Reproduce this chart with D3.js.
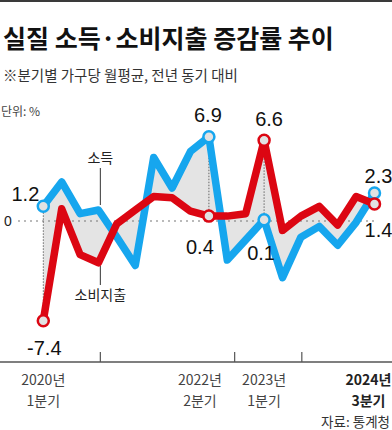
<!DOCTYPE html>
<html>
<head>
<meta charset="utf-8">
<script src="https://cdn.jsdelivr.net/npm/d3@7"></script>
<style>
  body { margin: 0; background: #fff; }
  svg { display: block; }
</style>
</head>
<body>
<svg id="chart" width="392" height="430"></svg>
<script>
// 분기 (2020년 1분기 ~ 2024년 3분기)
const quarters = ["2020Q1","2020Q2","2020Q3","2020Q4","2021Q1","2021Q2","2021Q3","2021Q4",
                  "2022Q1","2022Q2","2022Q3","2022Q4","2023Q1","2023Q2","2023Q3","2023Q4",
                  "2024Q1","2024Q2","2024Q3"];
// 실질 소득 증감률 (%)
const income   = [1.2, 3.2, 0.6, 0.9, -1.2, -3.3, 5.2, 2.7, 5.7, 6.9, -2.9, -1.4, 0.1, -4.2, -1.2, -0.4, -1.8, -0.1, 2.3];
// 실질 소비지출 증감률 (%)
const spending = [-7.4, 1.0, -2.5, -3.1, -0.2, 0.9, 2.0, 1.9, 0.8, 0.4, 0.4, 0.6, 6.6, -0.7, 0.4, 1.2, -0.3, 2.0, 1.4];
// 값 표시하는 분기
const markedIdx = [0, 9, 12, 18];
// x축 라벨
const tickIdx = [0, 9, 12, 18];
const tickYears = ["2020년", "2022년", "2023년", "2024년"];
const tickQuarters = ["1분기", "2분기", "1분기", "3분기"];
// x축 구분 눈금 (분기 위치)
const tickMarks = [3.1, 10.4, 14.05];

const blue = "#16a6ee", red = "#dc0612";
const kr = "'Noto Sans CJK KR', 'Noto Sans', sans-serif";
const num = "'Liberation Sans', Arial, sans-serif";

const svg = d3.select("#chart");

const x = d3.scaleLinear().domain([0, quarters.length - 1]).range([43.3, 374.5]);
const y = d3.scaleLinear()
  .domain([d3.min(spending), 0, d3.max(income)])
  .range([320.7, 221, 136.7]);

// 상단 선
svg.append("rect").attr("x", 0).attr("y", 0).attr("width", 392).attr("height", 2).attr("fill", "#3a3a3a");

// 제목
svg.append("text").attr("x", 3).attr("y", 48)
  .style("font-family", kr).style("font-size", "25px").style("font-weight", "700")
  .attr("fill", "#111").text("실질 소득·소비지출 증감률 추이");
svg.append("text").attr("x", 3).attr("y", 81)
  .style("font-family", kr).style("font-size", "14.5px")
  .attr("fill", "#333").text("※분기별 가구당 월평균, 전년 동기 대비");
svg.append("text").attr("x", 1).attr("y", 116)
  .style("font-family", kr).style("font-size", "12px")
  .attr("fill", "#444").text("단위: %");

// 두 선 사이 면적
const area = d3.area()
  .x((d, i) => x(i))
  .y0((d, i) => y(income[i]))
  .y1((d, i) => y(spending[i]));
svg.append("path").datum(quarters).attr("d", area).attr("fill", "#e4e4e4");

// 0 기준선
svg.append("line")
  .attr("x1", 18).attr("x2", 378).attr("y1", y(0)).attr("y2", y(0))
  .attr("stroke", "#777").attr("stroke-width", 1.2).attr("stroke-dasharray", "2,4");
svg.append("text").attr("x", 8).attr("y", y(0)).attr("dy", "0.35em")
  .attr("text-anchor", "middle")
  .style("font-family", num).style("font-size", "14px").attr("fill", "#222").text("0");

// 수직 점선
svg.selectAll(".drop").data(markedIdx.slice(0, 3)).enter().append("line")
  .attr("x1", d => x(d)).attr("x2", d => x(d))
  .attr("y1", d => y(Math.max(income[d], spending[d])))
  .attr("y2", d => y(Math.min(income[d], spending[d], 0)))
  .attr("stroke", "#666").attr("stroke-width", 1).attr("stroke-dasharray", "1.5,1.5");

// 범례 지시선
svg.append("line").attr("x1", x(3.1)).attr("x2", x(3.1)).attr("y1", 168).attr("y2", 205)
  .attr("stroke", "#333").attr("stroke-width", 1);
svg.append("text").attr("x", x(3.1)).attr("y", 163).attr("text-anchor", "middle")
  .style("font-family", kr).style("font-size", "14px").attr("fill", "#222").text("소득");
svg.append("line").attr("x1", x(3.1)).attr("x2", x(3.1)).attr("y1", 266).attr("y2", 285)
  .attr("stroke", "#333").attr("stroke-width", 1);
svg.append("text").attr("x", x(3.1)).attr("y", 300).attr("text-anchor", "middle")
  .style("font-family", kr).style("font-size", "14px").attr("fill", "#222").text("소비지출");

// 선
const lineOf = arr => d3.line().x((d, i) => x(i)).y((d, i) => y(arr[i]));
svg.append("path").datum(quarters).attr("d", lineOf(income))
  .attr("fill", "none").attr("stroke", blue).attr("stroke-width", 7.5)
  .attr("stroke-linejoin", "round");
svg.append("path").datum(quarters).attr("d", lineOf(spending))
  .attr("fill", "none").attr("stroke", red).attr("stroke-width", 7.5)
  .attr("stroke-linejoin", "round");

// 점
svg.selectAll(".dotB").data(markedIdx).enter().append("circle")
  .attr("cx", d => x(d)).attr("cy", d => y(income[d])).attr("r", 5.5)
  .attr("fill", "#e2e2e2").attr("stroke", blue).attr("stroke-width", 2.5);
svg.selectAll(".dotR").data(markedIdx).enter().append("circle")
  .attr("cx", d => x(d)).attr("cy", d => y(spending[d])).attr("r", 5.5)
  .attr("fill", "#e2e2e2").attr("stroke", red).attr("stroke-width", 2.5);

// 값 라벨
const incomeLabelPos = { 0: [-4, -5, "end"], 9: [-1, -15, "middle"], 12: [-3, 40, "middle"], 18: [4, -10, "middle"] };
const spendLabelPos  = { 0: [1, 34, "middle"], 9: [-9, 38, "middle"], 12: [5, -14, "middle"], 18: [4, 33, "middle"] };
function valueLabels(arr, pos) {
  svg.selectAll(null).data(markedIdx).enter().append("text")
    .attr("x", d => x(d) + pos[d][0])
    .attr("y", d => y(arr[d]) + pos[d][1])
    .attr("text-anchor", d => pos[d][2])
    .style("font-family", num).style("font-size", "20px").attr("fill", "#111")
    .text(d => d3.format(".1f")(arr[d]).replace("−", "-"));
}
valueLabels(income, incomeLabelPos);
valueLabels(spending, spendLabelPos);

// x축
const axisY = 362;
svg.append("line").attr("x1", 0).attr("x2", 392).attr("y1", axisY).attr("y2", axisY)
  .attr("stroke", "#555").attr("stroke-width", 1.5);
svg.selectAll(".tick").data(tickMarks).enter().append("line")
  .attr("x1", d => x(d)).attr("x2", d => x(d)).attr("y1", axisY - 10).attr("y2", axisY)
  .attr("stroke", "#555").attr("stroke-width", 1.2);

const labelShift = { 0: 0, 9: -9, 12: 0, 18: -6 };
tickIdx.forEach((q, k) => {
  const last = k === tickIdx.length - 1;
  const g = svg.append("text")
    .attr("text-anchor", "middle")
    .style("font-family", kr).style("font-size", "14px")
    .style("font-weight", last ? "700" : "400")
    .attr("fill", last ? "#222" : "#444");
  g.append("tspan").attr("x", x(q) + labelShift[q]).attr("y", 385).text(tickYears[k]);
  g.append("tspan").attr("x", x(q) + labelShift[q]).attr("y", 406).text(tickQuarters[k]);
});

svg.append("text").attr("x", 390).attr("y", 427).attr("text-anchor", "end")
  .style("font-family", kr).style("font-size", "13.5px").attr("fill", "#333").text("자료: 통계청");
</script>
</body>
</html>
